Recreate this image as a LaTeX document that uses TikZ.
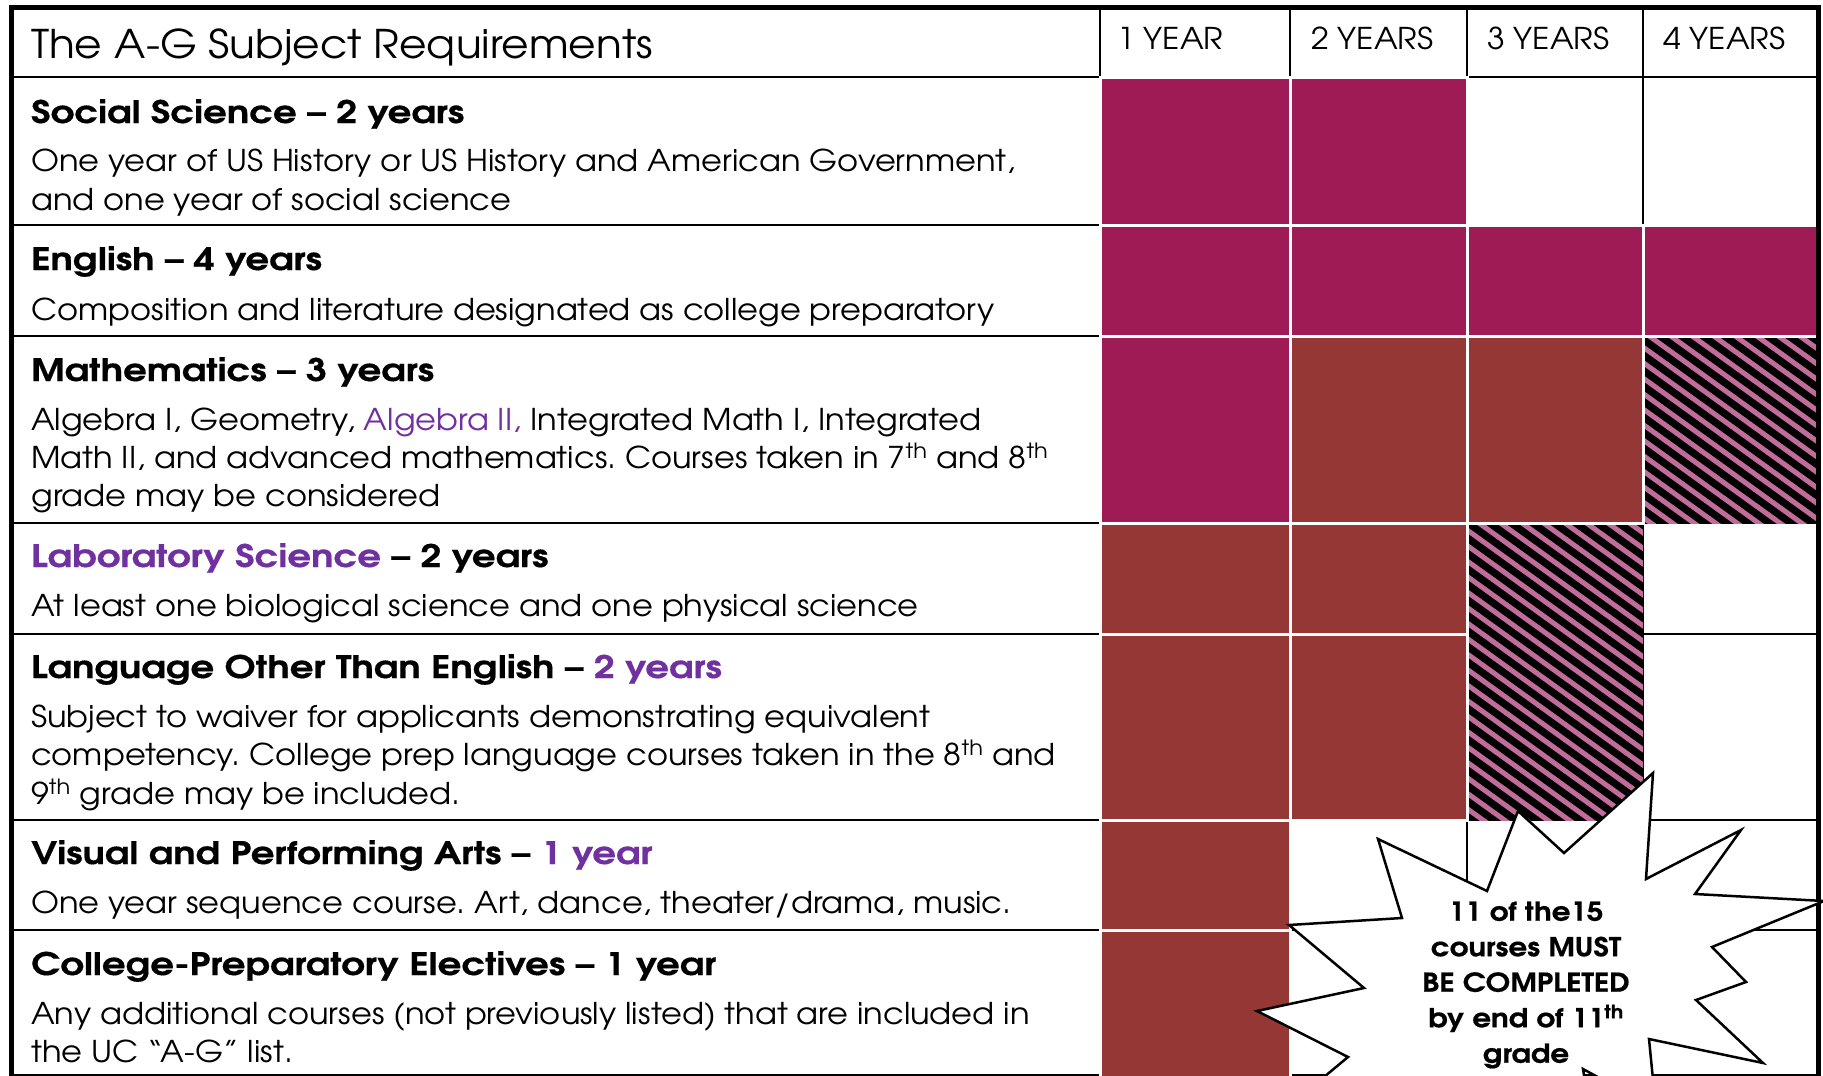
\documentclass[tikz,border=0pt]{standalone}
\usepackage{fontspec}
\setmainfont{texgyreadventor}[Extension=.otf,UprightFont=*-regular,BoldFont=*-bold,ItalicFont=*-italic,BoldItalicFont=*-bolditalic,UprightFeatures={FakeStretch=1.07},BoldFeatures={FakeStretch=1.2,FakeBold=0.5}]
\newfontfamily\burstfont{texgyreadventor-bold}[Extension=.otf,FakeStretch=1.13,FakeBold=0.5]
\frenchspacing
\definecolor{magc}{RGB}{158,27,85}
\definecolor{brownc}{RGB}{149,55,53}
\definecolor{stripec}{RGB}{194,108,154}
\definecolor{purp}{RGB}{112,48,160}
\newcommand{\hdfont}{\fontsize{31}{38}\selectfont\bfseries}
\newcommand{\bdfont}{\fontsize{30}{38}\selectfont}
\tikzset{
  txt/.style={anchor=base west, inner sep=0pt},
  headtxt/.style={txt, font=\hdfont},
  bodytxt/.style={txt, font=\bdfont},
  yeartxt/.style={txt, font=\fontsize{30}{34}\selectfont},
  gridline/.style={line width=2.5pt, black},
  magcell/.style={fill=magc, draw=white, line width=3pt},
  browncell/.style={fill=brownc, draw=white, line width=3pt},
  burst/.style={fill=white, draw=black, line width=2.5pt, line join=miter},
}
\begin{document}
\begin{tikzpicture}[x=1pt,y=-1pt]
\useasboundingbox (0,0) rectangle (1823,1076);
\clip (0,0) rectangle (1823,1076);
\fill[white] (0,0) rectangle (1823,1076);
% grid
\foreach \yy in {77,225,336,523,634,820,930,1075} \draw[gridline] (11,\yy) -- (1818,\yy);
\foreach \xx in {1100,1290,1467,1643} \draw[gridline] (\xx,7) -- (\xx,1080);
% hatched cells
\foreach \xa/\ya/\xb/\yb in {1643/336/1816/523, 1467/523/1643/634, 1467/634/1643/820} {
  \begin{scope}
    \clip (\xa,\ya) rectangle (\xb,\yb);
    \fill[black] (\xa,\ya) rectangle (\xb,\yb);
    \foreach \k in {12,...,66} \draw[stripec, line width=5pt] ({\k*21.5},0) -- ++(1400,1008);
  \end{scope}
}
% solid cells
\path[magcell] (1100,77) rectangle (1290,225);
\path[magcell] (1290,77) rectangle (1467,225);
\path[magcell] (1100,225) rectangle (1290,336);
\path[magcell] (1290,225) rectangle (1467,336);
\path[magcell] (1467,225) rectangle (1643,336);
\path[magcell] (1643,225) rectangle (1818,336);
\path[magcell] (1100,336) rectangle (1290,523);
\path[browncell] (1290,336) rectangle (1467,523);
\path[browncell] (1467,336) rectangle (1643,523);
\path[browncell] (1100,523) rectangle (1290,634);
\path[browncell] (1290,523) rectangle (1467,634);
\path[browncell] (1100,634) rectangle (1290,820);
\path[browncell] (1290,634) rectangle (1467,820);
\path[browncell] (1100,820) rectangle (1290,930);
\path[browncell] (1100,930) rectangle (1290,1090);
% outer border
\draw[line width=5pt] (11.5,1090) -- (11.5,7) -- (1818,7) -- (1818,1090);
% header texts
\node[txt, font=\fontsize{39.5}{44}\selectfont] (title) at (31,58) {The A-G Subject Requirements};
\node[yeartxt] (y1) at (1117,49) {1 YEAR};
\node[yeartxt] (y2) at (1311,49) {2 YEARS};
\node[yeartxt] (y3) at (1487,49) {3 YEARS};
\node[yeartxt] (y4) at (1663,49) {4 YEARS};
% row 1
\node[headtxt] (h1) at (31,123) {Social Science – 2 years};
\node[bodytxt] (b1a) at (31,171) {One year of US History or US History and American Government,};
\node[bodytxt] (b1b) at (31,210) {and one year of social science};
% row 2
\node[headtxt] (h2) at (31,270) {English – 4 years};
\node[bodytxt] (b2a) at (31,320) {Composition and literature designated as college preparatory};
% row 3
\node[headtxt] (h3) at (31,381) {Mathematics – 3 years};
\node[bodytxt] (b3a) at (31,430) {Algebra I, Geometry, \textcolor{purp}{Algebra II,} Integrated Math I, Integrated};
\node[bodytxt] (b3b) at (31,468) {Math II, and advanced mathematics. Courses taken in 7\textsuperscript{th} and 8\textsuperscript{th}};
\node[bodytxt] (b3c) at (31,506) {grade may be considered};
% row 4
\node[headtxt] (h4) at (31,567) {\textcolor{purp}{Laboratory Science} – 2 years};
\node[bodytxt] (b4a) at (31,616) {At least one biological science and one physical science};
% row 5
\node[headtxt] (h5) at (31,678) {Language Other Than English – \textcolor{purp}{2 years}};
\node[bodytxt] (b5a) at (31,727) {Subject to waiver for applicants demonstrating equivalent};
\node[bodytxt] (b5b) at (31,765) {competency. College prep language courses taken in the 8\textsuperscript{th} and};
\node[bodytxt] (b5c) at (31,804) {9\textsuperscript{th} grade may be included.};
% row 6
\node[headtxt] (h6) at (31,864) {Visual and Performing Arts – \textcolor{purp}{1 year}};
\node[bodytxt] (b6a) at (31,913) {One year sequence course. Art, dance, theater/drama, music.};
% row 7
\node[headtxt] (h7) at (31,975) {College-Preparatory Electives – 1 year};
\node[bodytxt] (b7a) at (31,1024) {Any additional courses (not previously listed) that are included in};
\node[bodytxt] (b7b) at (31,1062) {the UC “A-G” list.};
% starburst
\path[burst] (1300,1097) -- (1348,1057) -- (1257,1011) -- (1364,988) -- (1289,925) -- (1402,918)
  -- (1378,839) -- (1487,891) -- (1518,811) -- (1564,853) -- (1653,773) -- (1646,879)
  -- (1741,830) -- (1695,894) -- (1824,901) -- (1712,947) -- (1746,982) -- (1696,1000)
  -- (1763,1063) -- (1649,1039) -- (1655,1100) -- (1640,1100) -- (1583,1069) -- (1588,1100) -- cycle;
\node[font=\fontsize{26}{35.5}\selectfont\burstfont, align=center, inner sep=0pt] (bursttext) at (1526,985)
  {11 of the15\\courses MUST\\BE COMPLETED\\by end of 11\textsuperscript{th}\\grade};
\end{tikzpicture}
\end{document}
